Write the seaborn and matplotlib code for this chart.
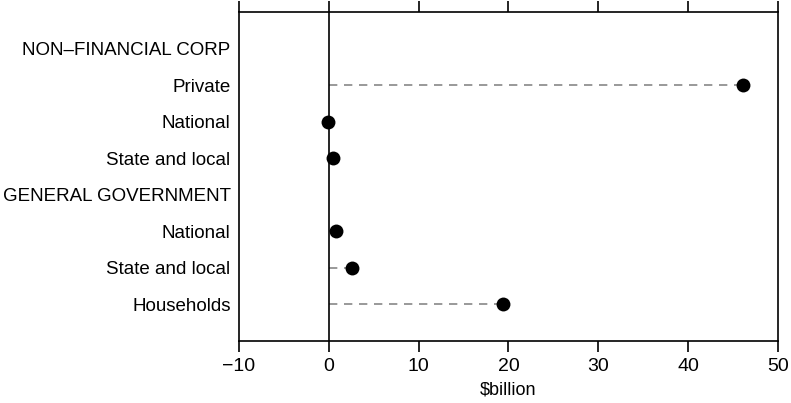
import matplotlib
matplotlib.use('Agg')
import matplotlib.pyplot as plt
import seaborn as sns
import numpy as np
import pandas as pd

labels = ['NON–FINANCIAL CORP', 'Private', 'National', 'State and local',
          'GENERAL GOVERNMENT', 'National', 'State and local', 'Households']
values = [np.nan, 46.1, -0.1, 0.5, np.nan, 0.8, 2.6, 19.4]
xticks = [-10, 0, 10, 20, 30, 40, 50]

df = pd.DataFrame({'label': labels, 'value': values, 'row': range(len(labels))})
pts = df.dropna()

sns.set_style('white')
plt.rcParams['font.family'] = ['Liberation Sans', 'DejaVu Sans']
plt.rcParams['text.color'] = 'black'
plt.rcParams['xtick.color'] = 'black'
plt.rcParams['ytick.color'] = 'black'
plt.rcParams['axes.labelcolor'] = 'black'

fig = plt.figure(figsize=(7.91, 4.03), dpi=100)
ax = fig.add_axes([0.302, 0.154, 0.6816, 0.8162])

for _, r in pts.iterrows():
    ax.plot([0, r['value']], [r['row'], r['row']], color='#888888', lw=1.2,
            dashes=(5, 4), zorder=1)
ax.axvline(0, color='black', lw=1.2, zorder=2)
sns.scatterplot(data=pts, x='value', y='row', color='black', s=100,
                edgecolor='black', linewidth=0, ax=ax, zorder=3)

ax.set_xlim(-10, 50)
ax.set_ylim(len(labels), -1)
ax.set_xticks(xticks)
ax.set_xticklabels([str(t).replace('-', '−') for t in xticks], fontsize=14)
ax.set_yticks(range(len(labels)))
ax.set_yticklabels(labels, fontsize=13.5)
ax.tick_params(axis='x', which='both', direction='out', length=8, width=1.2,
               top=True, bottom=True, labeltop=False, pad=4, color='black')
ax.tick_params(axis='y', length=0, pad=6)
ax.set_xlabel('$billion', fontsize=13, labelpad=5)
ax.set_ylabel('')
for s in ax.spines.values():
    s.set_color('black')
    s.set_linewidth(1.2)

fig.savefig('out.png', dpi=100)
